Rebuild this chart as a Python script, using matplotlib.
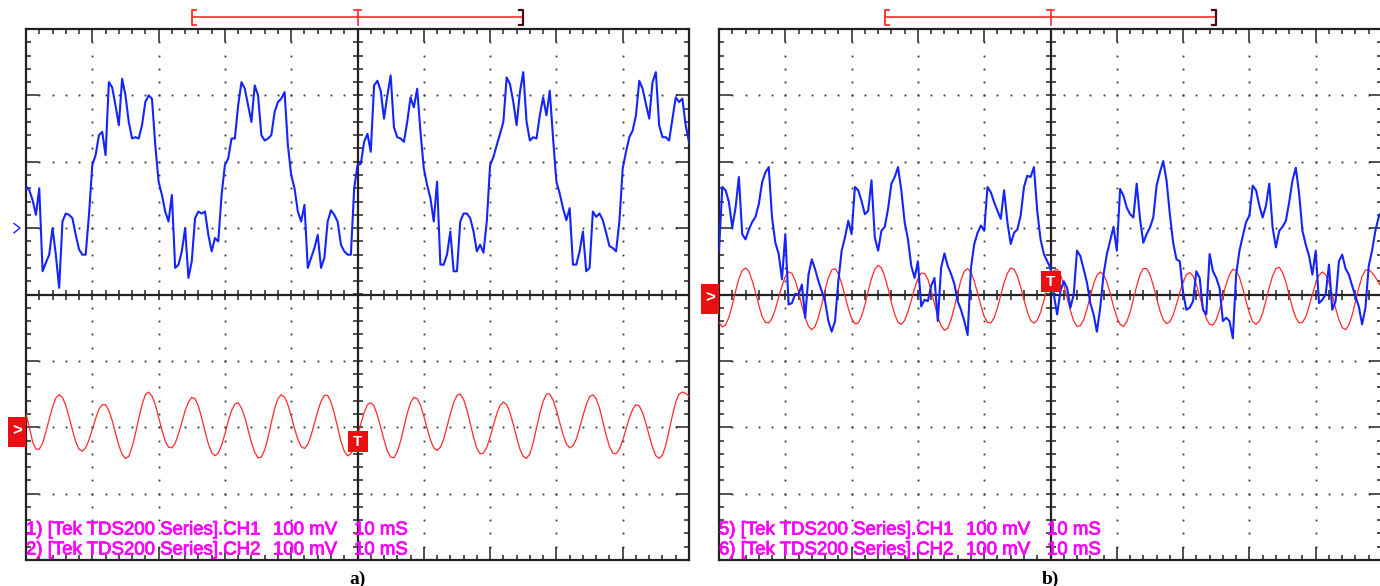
import numpy as np
import matplotlib.pyplot as plt
import matplotlib.patheffects as pe
from matplotlib.patches import Rectangle
from matplotlib.ticker import MultipleLocator
from matplotlib.transforms import blended_transform_factory

plt.rcParams['font.family'] = ['Liberation Sans', 'DejaVu Sans']

# scope settings (TDS200 screen: 10 x 8 divisions)
ms_per_div = 10
mv_per_div = 100

# ---- screen a) : samples every 0.5 ms from -50 ms to +50 ms, values in mV ----
ch1_a = [
    63, 57, 42, 20, 60, -65, -52, -40, 0, -40,
    -90, 10, 22, 20, 15, -10, -32, -40, -40, 20,
    95, 110, 140, 145, 110, 220, 212, 185, 155, 225,
    200, 160, 135, 137, 135, 155, 190, 200, 195, 125,
    70, 50, 25, 10, 50, -60, -55, -35, 0, -75,
    -50, 15, 25, 22, 25, -10, -35, -15, -20, 50,
    95, 105, 135, 135, 185, 220, 210, 185, 160, 215,
    200, 140, 132, 135, 140, 175, 190, 195, 205, 125,
    80, 60, 25, 10, 35, -60, -45, -30, -10, -60,
    -45, 10, 27, 20, 10, -25, -35, -40, -40, 60,
    95,
    97, 130, 142, 115, 215, 222, 207, 165, 200, 230,
    152, 137, 135, 130, 160, 197, 182, 210, 145, 90,
    65, 45, 10, 70, -55, -55, -40, -5, -65, -65,
    10, 22, 22, 15, -5, -35, -25, -37, 10, 95,
    107, 125, 142, 160, 227, 217, 190, 155, 205, 235,
    160, 132, 137, 135, 170, 197, 170, 207, 135, 70,
    52, 30, 12, 30, -55, -55, -35, -5, -65, -60,
    25, 17, 22, 12, -7, -27, -30, -35, 10, 90,
    115, 137, 147, 170, 222, 210, 187, 165, 220, 235,
    155, 137, 137, 132, 165, 197, 190, 195, 155, 130,
]
ch2_a = [
    20, 0, -22, -33, -33, -24, -7, 12, 30, 44,
    49, 45, 33, 15, -4, -22, -33, -36, -31, -19,
    -3, 13, 27, 34, 34, 25, 10, -9, -27, -41,
    -47, -44, -30, -10, 13, 34, 49, 53, 47, 34,
    15, -4, -21, -30, -31, -24, -10, 7, 25, 38,
    45, 43, 32, 14, -6, -25, -38, -43, -39, -27,
    -10, 9, 25, 35, 37, 29, 15, -4, -23, -38,
    -46, -45, -34, -16, 7, 28, 43, 49, 45, 34,
    17, -2, -18, -29, -32, -26, -12, 6, 24, 39,
    48, 48, 38, 21, 0, -21, -36, -43, -40, -30,
    -13, 5, 22, 34, 37, 32, 18, 0, -19, -36,
    -45, -46, -37, -21, 0, 21, 37, 45, 43, 33,
    17, -2, -19, -31, -35, -30, -18, 1, 20, 37,
    48, 50, 42, 26, 6, -15, -32, -40, -39, -30,
    -15, 3, 20, 33, 38, 34, 22, 4, -15, -33,
    -44, -47, -40, -23, -1, 21, 39, 50, 50, 41,
    26, 7, -11, -25, -31, -28, -18, -1, 17, 34,
    46, 49, 43, 29, 9, -12, -29, -39, -40, -33,
    -20, -3, 14, 27, 34, 32, 22, 6, -13, -30,
    -43, -47, -42, -27, -5, 18, 38, 50, 53, 51,
    47,
]

# ---- screen b) ----
ch1_b = [
    66, 162, 157, 139, 101, 131, 177, 91, 83, 98,
    109, 117, 136, 169, 184, 192, 116, 78, 61, 23,
    91, -15, -13, 1, 0, 15, -35, 30, 53, 38,
    20, 5, -10, -40, -56, -40, 20, 66, 86, 111,
    91, 162, 157, 141, 121, 126, 172, 86, 66, 96,
    102, 129, 167, 177, 192, 157, 109, 83, 43, 25,
    50, -18, -8, -10, 13, 25, -40, 40, 62, 43,
    31, 16, -10, -23, -40, -61, 40, 76, 93, 104,
    96, 162, 154, 139, 126, 114, 157, 109, 76, 93,
    98, 119, 162, 179, 177, 192, 126, 83, 61, 50,
    40,
    0, -30, 5, 20, 10, -20, 0, 66, 58, 38,
    18, -13, -30, -56, -20, 30, 61, 81, 102, 66,
    159, 149, 131, 121, 116, 167, 114, 78, 91, 101,
    116, 164, 184, 201, 172, 121, 78, 53, 50, 3,
    -23, -20, -10, 35, 25, -23, -30, 61, 35, 25,
    10, -40, -35, -40, -66, 30, 66, 88, 109, 119,
    164, 157, 134, 116, 134, 167, 101, 71, 96, 102,
    111, 139, 172, 191, 152, 96, 75, 58, 30, 66,
    -13, -8, 0, 45, -23, -10, 50, 60, 39, 30,
    13, -3, -18, -45, -20, 43, 66, 96, 117, 126,
]
ch2_b = [
    -42, -49, -46, -34, -16, 5, 24, 36, 40, 35,
    21, 3, -16, -33, -42, -43, -36, -22, -4, 13,
    27, 34, 32, 21, 4, -17, -35, -48, -53, -48,
    -34, -15, 7, 25, 37, 39, 31, 17, -2, -21,
    -36, -44, -43, -33, -16, 5, 24, 38, 44, 40,
    27, 9, -12, -30, -42, -45, -39, -26, -9, 9,
    24, 32, 32, 23, 6, -14, -33, -47, -54, -51,
    -38, -19, 2, 22, 35, 39, 34, 20, 2, -17,
    -33, -42, -43, -35, -20, -1, 18, 32, 40, 38,
    28, 11, -8, -26, -39, -43, -39, -27, -9, 10,
    26, 36, 38, 30, 15, -5, -24, -40, -48, -47,
    -38, -22, -3, 16, 29, 34, 30, 19, 2, -18,
    -34, -45, -48, -41, -27, -7, 13, 30, 39, 39,
    30, 14, -5, -24, -38, -44, -41, -31, -15, 3,
    19, 30, 33, 28, 15, -2, -21, -36, -45, -46,
    -38, -23, -4, 16, 30, 38, 36, 26, 9, -10,
    -28, -41, -45, -40, -28, -9, 11, 28, 39, 41,
    33, 19, -1, -20, -35, -43, -42, -34, -18, 0,
    17, 29, 34, 30, 18, 0, -21, -38, -50, -53,
    -46, -31, -11, 10, 27, 37, 37, 33, 26, 18,
    10,
]

# channel ground positions (divisions from screen centre) and trigger level (mV on CH2)
grounds_a = (1.0, -2.0)
grounds_b = (0.0, 0.0)
trigger_a = -22
trigger_b = 19

readout_a = [("1) [Tek TDS200 Series].CH1", "100 mV", "10 mS"),
             ("2) [Tek TDS200 Series].CH2", "100 mV", "10 mS")]
readout_b = [("5) [Tek TDS200 Series].CH1", "100 mV", "10 mS"),
             ("6) [Tek TDS200 Series].CH2", "100 mV", "10 mS")]

BLUE = '#1424ff'
RED = '#ff2a2a'
BOX_RED = '#e81010'
MAGENTA = '#ff00ff'

W, H = 1380, 586
AX_W, AX_H = 663, 531


def draw_screen(ax, ch1, ch2, grounds, trig, readout, caption):
    half = 5 * ms_per_div
    ax.set_xlim(-half, half)
    ax.set_ylim(-4, 4)

    # border ticks
    ax.xaxis.set_major_locator(MultipleLocator(ms_per_div))
    ax.xaxis.set_minor_locator(MultipleLocator(ms_per_div / 5))
    ax.yaxis.set_major_locator(MultipleLocator(1))
    ax.yaxis.set_minor_locator(MultipleLocator(0.2))
    ax.tick_params(which='both', direction='in', top=True, right=True,
                   labelbottom=False, labelleft=False, color='#222222')
    ax.tick_params(which='major', length=9.5, width=1.1)
    ax.tick_params(which='minor', length=3.6, width=1.1)
    for sp in ax.spines.values():
        sp.set_linewidth(1.6)
        sp.set_color('#222222')

    # dotted graticule
    gx = [k * ms_per_div for k in (-4, -3, -2, -1, 1, 2, 3, 4)]
    dot_y = np.arange(-3.8, 3.81, 0.2)
    for x in gx:
        ax.plot(np.full_like(dot_y, x), dot_y, 's', ms=1.3, color='#333333',
                mew=0, zorder=1)
    dot_x = np.arange(-half + 2, half - 1, 2)
    for y in (-3, -2, -1, 1, 2, 3):
        ax.plot(dot_x, np.full_like(dot_x, y), 's', ms=1.3, color='#333333',
                mew=0, zorder=1)

    # centre axes with small cross ticks
    ax.axhline(0, color='#222222', lw=1.6, zorder=2)
    ax.axvline(0, color='#222222', lw=1.6, zorder=2)
    cx = np.arange(-half + 2, half - 1, 2)
    ax.plot(cx, np.zeros_like(cx), '|', ms=7.8, mew=1.1, color='#222222', zorder=2)
    cy = np.arange(-3.8, 3.81, 0.2)
    ax.plot(np.zeros_like(cy), cy, '_', ms=7.8, mew=1.1, color='#222222', zorder=2)

    # traces
    t1 = np.linspace(-half, half, len(ch1))
    t2 = np.linspace(-half, half, len(ch2))
    ax.plot(t2, grounds[1] + np.array(ch2) / mv_per_div, color=RED, lw=0.9,
            zorder=3)
    ax.plot(t1, grounds[0] + np.array(ch1) / mv_per_div, color=BLUE, lw=1.5,
            zorder=4)

    blend = blended_transform_factory(ax.transAxes, ax.transData)
    px = 1 / AX_W
    # CH1 ground marker
    g1 = grounds[0]
    ax.plot([-12 * px, -6 * px, -12 * px], [g1 + 0.07, g1, g1 - 0.07],
            color=BLUE, lw=1.0, transform=blend, clip_on=False, zorder=5)
    # CH2 ground marker
    g2 = grounds[1]
    ax.add_patch(Rectangle((-18 * px, g2 - 0.3), 18 * px, 0.46, transform=blend,
                           facecolor=BOX_RED, edgecolor='none', clip_on=False,
                           zorder=6))
    ax.text(-9 * px, g2 - 0.05, '>', transform=blend, color='white',
            fontsize=12, fontweight='bold', ha='center', va='center',
            zorder=7, clip_on=False)

    # trigger marker
    ty = g2 + trig / mv_per_div
    ax.add_patch(Rectangle((-1.45, ty - 0.15), 3.0, 0.31, facecolor=BOX_RED,
                           edgecolor='none', zorder=6))
    ax.text(0.05, ty, 'T', color='white', fontsize=11, fontweight='bold',
            ha='center', va='center', zorder=7)

    # trigger window bar above the screen
    tb = blended_transform_factory(ax.transData, ax.transAxes)
    yb = 1 + 12 / AX_H
    up, dn = 1 + 19 / AX_H, 1 + 4 / AX_H
    ax.plot([-25, 25], [yb, yb], color=RED, lw=1.2, transform=tb, clip_on=False)
    ax.plot([-24.3, -25, -25, -24.3], [up, up, dn, dn], color=RED, lw=1.3,
            transform=tb, clip_on=False)
    ax.plot([24.3, 25, 25, 24.3], [up, up, dn, dn], color='#4a0c0c', lw=1.6,
            transform=tb, clip_on=False)
    ax.plot([0, 0], [up, dn + 0.5 / AX_H], color=RED, lw=1.2, transform=tb,
            clip_on=False)
    ax.plot([-0.6, 0.6], [up, up], color=RED, lw=1.2, transform=tb,
            clip_on=False)

    # readout lines
    bold_edge = [pe.withStroke(linewidth=0.6, foreground=MAGENTA)]
    for i, (name, volts, tdiv) in enumerate(readout):
        yy = (30 - 20 * i) / AX_H
        for xoff, s in ((0, name), (247, volts), (328, tdiv)):
            ax.text(xoff / AX_W, yy, s, transform=ax.transAxes, color=MAGENTA,
                    fontsize=13.4, ha='left', va='center', zorder=8,
                    path_effects=bold_edge)

    ax.text(0.5, -19 / AX_H, caption, transform=ax.transAxes, ha='center',
            va='center', fontsize=14, fontweight='bold',
            family=['Liberation Serif', 'DejaVu Serif'])


fig = plt.figure(figsize=(W / 100, H / 100), dpi=100)
ax_a = fig.add_axes([26 / W, 1 - 560 / H, AX_W / W, AX_H / H])
ax_b = fig.add_axes([719 / W, 1 - 560 / H, AX_W / W, AX_H / H])

draw_screen(ax_a, ch1_a, ch2_a, grounds_a, trigger_a, readout_a, 'a)')
draw_screen(ax_b, ch1_b, ch2_b, grounds_b, trigger_b, readout_b, 'b)')

fig.savefig('out.png', dpi=100, facecolor='white')
